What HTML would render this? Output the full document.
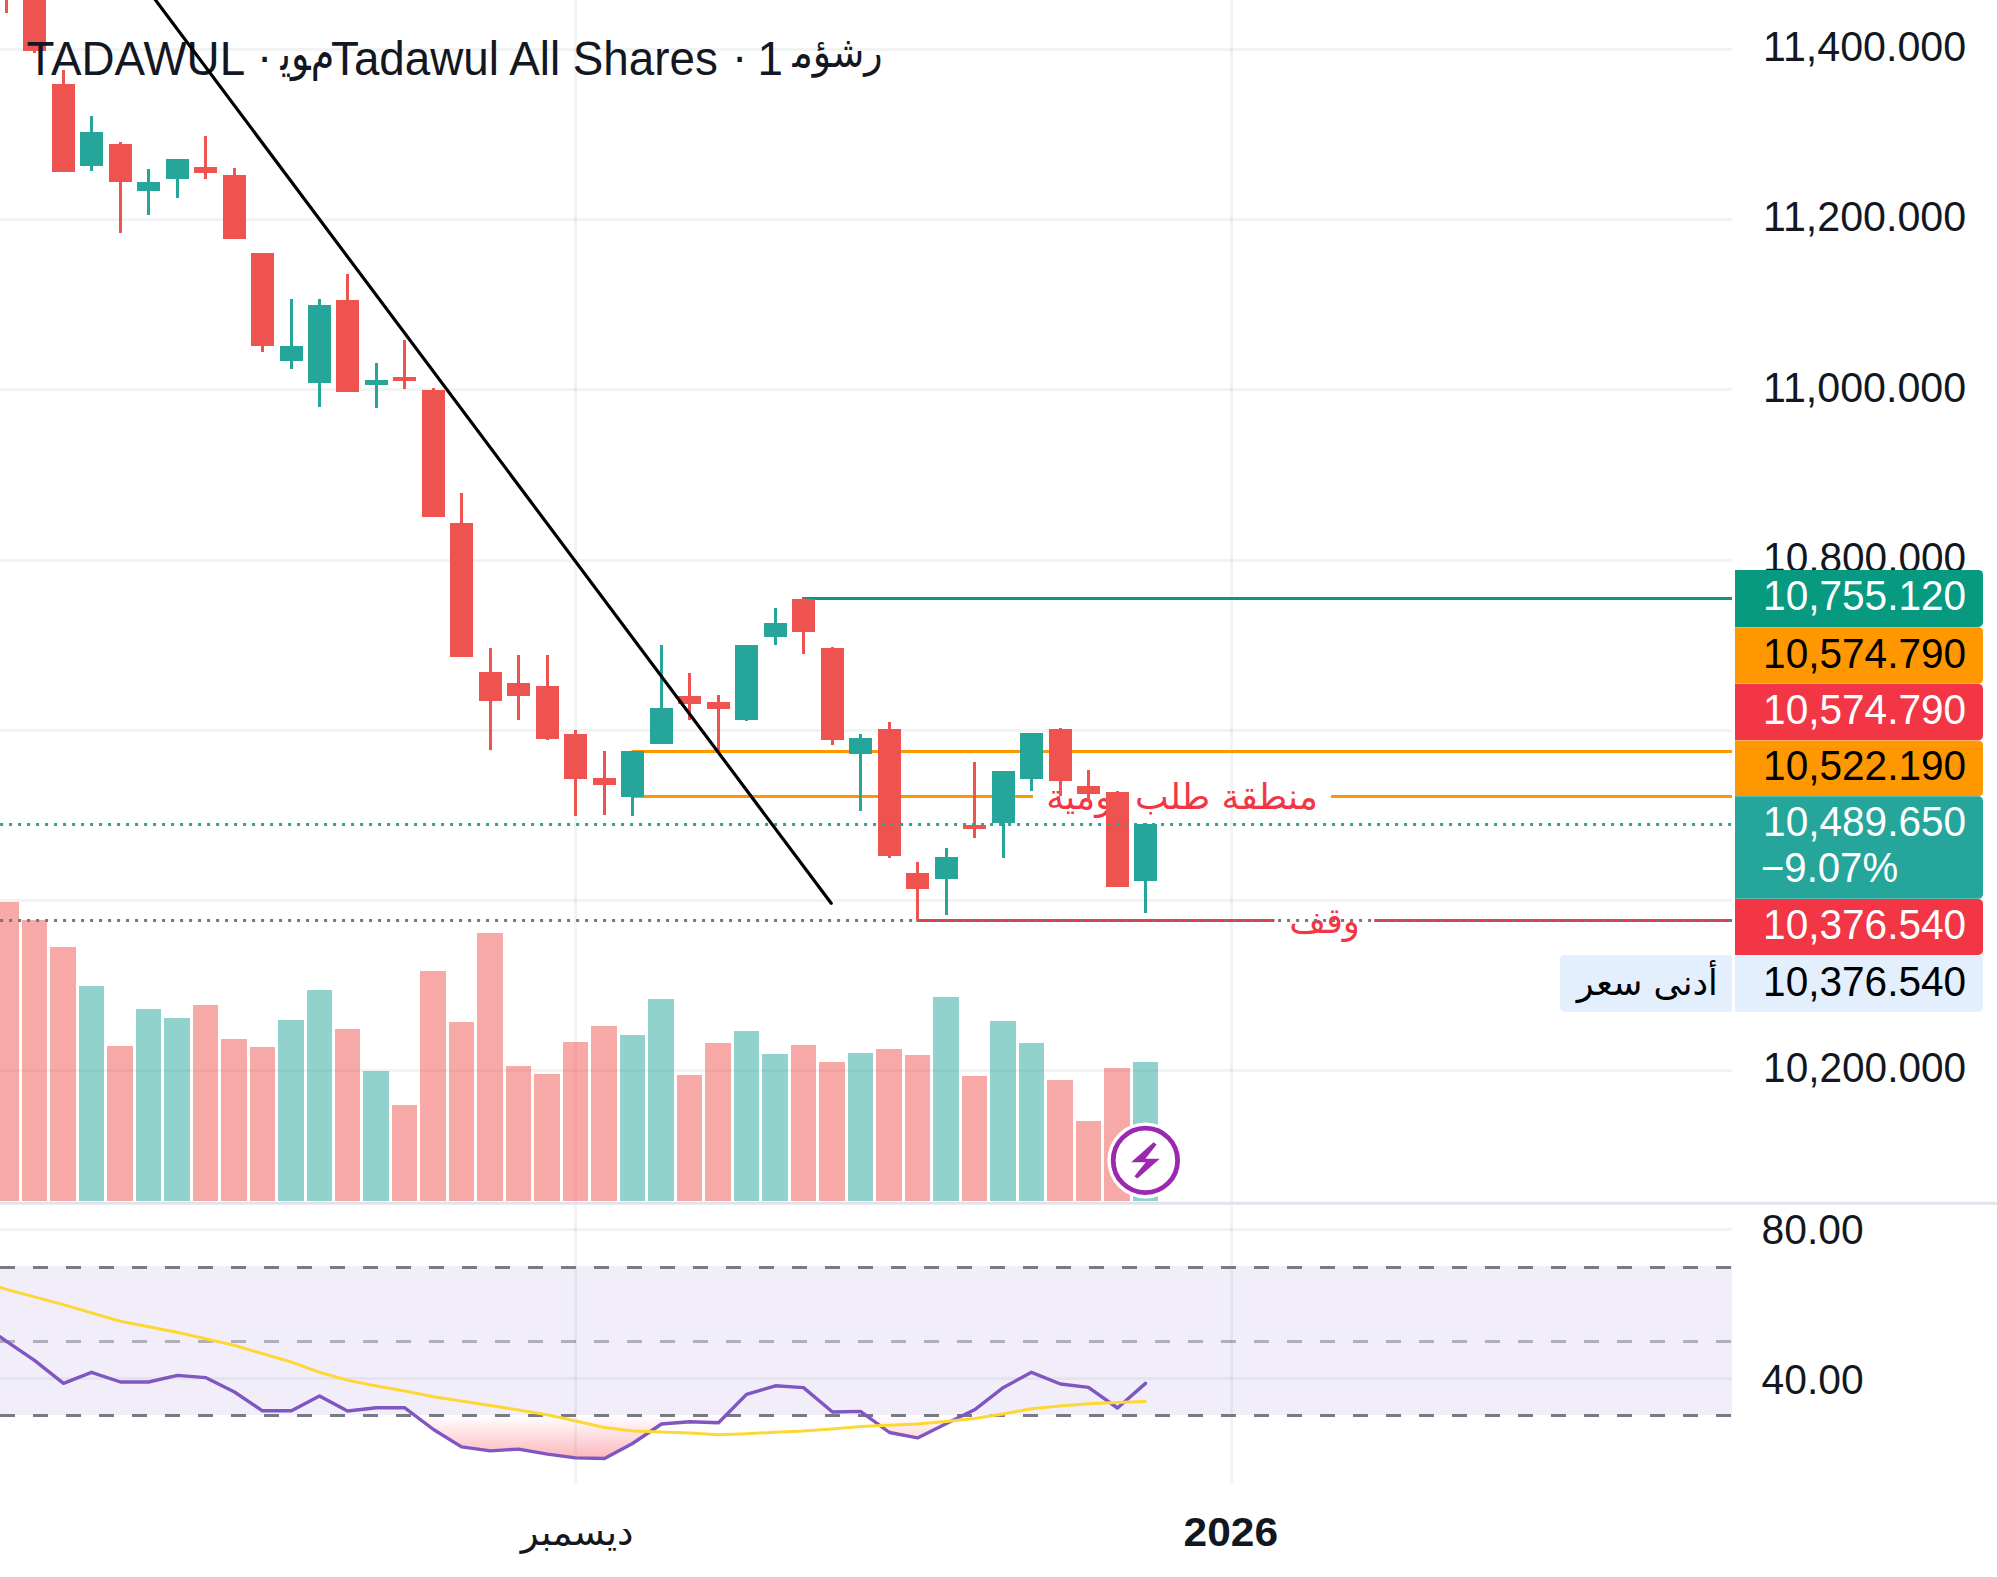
<!DOCTYPE html>
<html lang="ar"><head><meta charset="utf-8"><title>TADAWUL chart</title>
<style>html,body{margin:0;padding:0;background:#fff;}body{width:1997px;height:1577px;position:relative;overflow:hidden;font-family:"Liberation Sans","DejaVu Sans",sans-serif;}</style>
</head><body>
<svg width="1997" height="1577" viewBox="0 0 1997 1577" style="position:absolute;left:0;top:0">
<defs>
<linearGradient id="os" gradientUnits="userSpaceOnUse" x1="0" y1="1415.4" x2="0" y2="1462"><stop offset="0" stop-color="#f7525f" stop-opacity="0"/><stop offset="1" stop-color="#f7525f" stop-opacity="0.45"/></linearGradient>
<clipPath id="below30"><rect x="0" y="1415.4" width="1732" height="80"/></clipPath>
</defs>
<rect width="1997" height="1577" fill="#fff"/>
<rect x="0" y="1266" width="1732" height="149" fill="#7e57c2" fill-opacity="0.1"/>
<rect x="0" y="48" width="1732" height="3" fill="#1e322d" fill-opacity="0.06"/>
<rect x="0" y="218" width="1732" height="3" fill="#1e322d" fill-opacity="0.06"/>
<rect x="0" y="388" width="1732" height="3" fill="#1e322d" fill-opacity="0.06"/>
<rect x="0" y="559" width="1732" height="3" fill="#1e322d" fill-opacity="0.06"/>
<rect x="0" y="729" width="1732" height="3" fill="#1e322d" fill-opacity="0.06"/>
<rect x="0" y="899" width="1732" height="3" fill="#1e322d" fill-opacity="0.06"/>
<rect x="0" y="1069" width="1732" height="3" fill="#1e322d" fill-opacity="0.06"/>
<rect x="0" y="1228" width="1732" height="3" fill="#1e322d" fill-opacity="0.06"/>
<rect x="0" y="1377" width="1732" height="3" fill="#1e322d" fill-opacity="0.06"/>
<rect x="574" y="0" width="3" height="1483.6" fill="#1e322d" fill-opacity="0.06"/>
<rect x="1230" y="0" width="3" height="1483.6" fill="#1e322d" fill-opacity="0.06"/>
<line x1="0" x2="1732" y1="1267.5" y2="1267.5" stroke="#787b86" stroke-opacity="1" stroke-width="3" stroke-dasharray="15 18"/>
<line x1="0" x2="1732" y1="1341.5" y2="1341.5" stroke="#787b86" stroke-opacity="0.55" stroke-width="3" stroke-dasharray="15 18"/>
<line x1="0" x2="1732" y1="1415.5" y2="1415.5" stroke="#787b86" stroke-opacity="1" stroke-width="3" stroke-dasharray="15 18"/>
<polygon clip-path="url(#below30)" points="6.5,1415.4 6.5,1341.3 34.5,1360.3 63.5,1383.4 91.5,1372.3 120.5,1382.0 148.5,1382.0 177.5,1375.4 205.5,1377.6 234.5,1392.0 262.5,1410.8 291.5,1410.8 319.5,1396.0 347.5,1411.0 376.5,1407.8 404.5,1407.6 433.5,1429.5 461.5,1446.9 490.5,1450.9 518.5,1449.1 547.5,1454.1 575.5,1457.9 604.5,1458.5 632.5,1443.5 661.5,1424.0 689.5,1421.8 718.5,1422.8 746.5,1394.4 775.5,1385.8 803.5,1387.6 832.5,1412.0 860.5,1411.4 889.5,1432.5 917.5,1437.9 946.5,1423.4 974.5,1409.8 1003.5,1387.4 1031.5,1372.3 1060.5,1384.0 1088.5,1387.4 1117.5,1408.0 1145.5,1383.4 1145.5,1415.4" fill="url(#os)"/>
<rect x="-7" y="902" width="26" height="299" fill="#ef5350" fill-opacity="0.5"/>
<rect x="22" y="920" width="25" height="281" fill="#ef5350" fill-opacity="0.5"/>
<rect x="50" y="947" width="26" height="254" fill="#ef5350" fill-opacity="0.5"/>
<rect x="79" y="986" width="25" height="215" fill="#26a69a" fill-opacity="0.5"/>
<rect x="107" y="1046" width="26" height="155" fill="#ef5350" fill-opacity="0.5"/>
<rect x="136" y="1009" width="25" height="192" fill="#26a69a" fill-opacity="0.5"/>
<rect x="164" y="1018" width="26" height="183" fill="#26a69a" fill-opacity="0.5"/>
<rect x="193" y="1005" width="25" height="196" fill="#ef5350" fill-opacity="0.5"/>
<rect x="221" y="1039" width="26" height="162" fill="#ef5350" fill-opacity="0.5"/>
<rect x="250" y="1047" width="25" height="154" fill="#ef5350" fill-opacity="0.5"/>
<rect x="278" y="1020" width="26" height="181" fill="#26a69a" fill-opacity="0.5"/>
<rect x="307" y="990" width="25" height="211" fill="#26a69a" fill-opacity="0.5"/>
<rect x="335" y="1029" width="25" height="172" fill="#ef5350" fill-opacity="0.5"/>
<rect x="363" y="1071" width="26" height="130" fill="#26a69a" fill-opacity="0.5"/>
<rect x="392" y="1105" width="25" height="96" fill="#ef5350" fill-opacity="0.5"/>
<rect x="420" y="971" width="26" height="230" fill="#ef5350" fill-opacity="0.5"/>
<rect x="449" y="1022" width="25" height="179" fill="#ef5350" fill-opacity="0.5"/>
<rect x="477" y="933" width="26" height="268" fill="#ef5350" fill-opacity="0.5"/>
<rect x="506" y="1066" width="25" height="135" fill="#ef5350" fill-opacity="0.5"/>
<rect x="534" y="1074" width="26" height="127" fill="#ef5350" fill-opacity="0.5"/>
<rect x="563" y="1042" width="25" height="159" fill="#ef5350" fill-opacity="0.5"/>
<rect x="591" y="1026" width="26" height="175" fill="#ef5350" fill-opacity="0.5"/>
<rect x="620" y="1035" width="25" height="166" fill="#26a69a" fill-opacity="0.5"/>
<rect x="648" y="999" width="26" height="202" fill="#26a69a" fill-opacity="0.5"/>
<rect x="677" y="1075" width="25" height="126" fill="#ef5350" fill-opacity="0.5"/>
<rect x="705" y="1043" width="26" height="158" fill="#ef5350" fill-opacity="0.5"/>
<rect x="734" y="1031" width="25" height="170" fill="#26a69a" fill-opacity="0.5"/>
<rect x="762" y="1054" width="26" height="147" fill="#26a69a" fill-opacity="0.5"/>
<rect x="791" y="1045" width="25" height="156" fill="#ef5350" fill-opacity="0.5"/>
<rect x="819" y="1062" width="26" height="139" fill="#ef5350" fill-opacity="0.5"/>
<rect x="848" y="1053" width="25" height="148" fill="#26a69a" fill-opacity="0.5"/>
<rect x="876" y="1049" width="26" height="152" fill="#ef5350" fill-opacity="0.5"/>
<rect x="905" y="1055" width="25" height="146" fill="#ef5350" fill-opacity="0.5"/>
<rect x="933" y="997" width="26" height="204" fill="#26a69a" fill-opacity="0.5"/>
<rect x="962" y="1076" width="25" height="125" fill="#ef5350" fill-opacity="0.5"/>
<rect x="990" y="1021" width="26" height="180" fill="#26a69a" fill-opacity="0.5"/>
<rect x="1019" y="1043" width="25" height="158" fill="#26a69a" fill-opacity="0.5"/>
<rect x="1047" y="1080" width="26" height="121" fill="#ef5350" fill-opacity="0.5"/>
<rect x="1076" y="1121" width="25" height="80" fill="#ef5350" fill-opacity="0.5"/>
<rect x="1104" y="1068" width="26" height="133" fill="#ef5350" fill-opacity="0.5"/>
<rect x="1133" y="1062" width="25" height="139" fill="#26a69a" fill-opacity="0.5"/>
<line x1="802" x2="1732" y1="598.5" y2="598.5" stroke="#089981" stroke-width="3"/>
<line x1="631.5" x2="1732" y1="751.5" y2="751.5" stroke="#ff9800" stroke-width="3"/>
<line x1="631.5" x2="1033" y1="796.5" y2="796.5" stroke="#ff9800" stroke-width="3"/>
<line x1="1331" x2="1732" y1="796.5" y2="796.5" stroke="#ff9800" stroke-width="3"/>
<line x1="916.3" x2="1274.5" y1="920.5" y2="920.5" stroke="#f23645" stroke-width="3"/>
<line x1="1374.3" x2="1732" y1="920.5" y2="920.5" stroke="#f23645" stroke-width="3"/>
<text x="1182" y="809" text-anchor="middle" font-family="'DejaVu Sans',sans-serif" font-size="35.7" fill="#f23645" direction="rtl">منطقة طلب يومية</text>
<text x="1324.6" y="933" text-anchor="middle" font-family="'DejaVu Sans',sans-serif" font-size="35.4" fill="#f23645" direction="rtl">وقف</text>
<rect x="5" y="-20" width="3" height="33" fill="#ef5350"/>
<rect x="-5" y="-20" width="23" height="10" fill="#ef5350"/>
<rect x="33" y="-10" width="3" height="63" fill="#ef5350"/>
<rect x="23" y="-10" width="23" height="61" fill="#ef5350"/>
<rect x="62" y="70" width="3" height="102" fill="#ef5350"/>
<rect x="52" y="84" width="23" height="88" fill="#ef5350"/>
<rect x="90" y="116" width="3" height="55" fill="#26a69a"/>
<rect x="80" y="132" width="23" height="34" fill="#26a69a"/>
<rect x="119" y="142" width="3" height="91" fill="#ef5350"/>
<rect x="109" y="144" width="23" height="38" fill="#ef5350"/>
<rect x="147" y="169" width="3" height="46" fill="#26a69a"/>
<rect x="137" y="182" width="23" height="9" fill="#26a69a"/>
<rect x="176" y="159" width="3" height="39" fill="#26a69a"/>
<rect x="166" y="159" width="23" height="20" fill="#26a69a"/>
<rect x="204" y="136" width="3" height="43" fill="#ef5350"/>
<rect x="194" y="167" width="23" height="6" fill="#ef5350"/>
<rect x="233" y="168" width="3" height="71" fill="#ef5350"/>
<rect x="223" y="175" width="23" height="64" fill="#ef5350"/>
<rect x="261" y="253" width="3" height="99" fill="#ef5350"/>
<rect x="251" y="253" width="23" height="93" fill="#ef5350"/>
<rect x="290" y="299" width="3" height="70" fill="#26a69a"/>
<rect x="280" y="346" width="23" height="15" fill="#26a69a"/>
<rect x="318" y="299" width="3" height="108" fill="#26a69a"/>
<rect x="308" y="305" width="23" height="78" fill="#26a69a"/>
<rect x="346" y="274" width="3" height="118" fill="#ef5350"/>
<rect x="336" y="300" width="23" height="92" fill="#ef5350"/>
<rect x="375" y="363" width="3" height="45" fill="#26a69a"/>
<rect x="365" y="380" width="23" height="5" fill="#26a69a"/>
<rect x="403" y="340" width="3" height="49" fill="#ef5350"/>
<rect x="393" y="377" width="23" height="4" fill="#ef5350"/>
<rect x="432" y="388" width="3" height="129" fill="#ef5350"/>
<rect x="422" y="390" width="23" height="127" fill="#ef5350"/>
<rect x="460" y="493" width="3" height="164" fill="#ef5350"/>
<rect x="450" y="523" width="23" height="134" fill="#ef5350"/>
<rect x="489" y="648" width="3" height="102" fill="#ef5350"/>
<rect x="479" y="672" width="23" height="29" fill="#ef5350"/>
<rect x="517" y="655" width="3" height="65" fill="#ef5350"/>
<rect x="507" y="683" width="23" height="13" fill="#ef5350"/>
<rect x="546" y="655" width="3" height="85" fill="#ef5350"/>
<rect x="536" y="686" width="23" height="53" fill="#ef5350"/>
<rect x="574" y="730" width="3" height="86" fill="#ef5350"/>
<rect x="564" y="734" width="23" height="45" fill="#ef5350"/>
<rect x="603" y="751" width="3" height="64" fill="#ef5350"/>
<rect x="593" y="778" width="23" height="7" fill="#ef5350"/>
<rect x="631" y="751" width="3" height="65" fill="#26a69a"/>
<rect x="621" y="751" width="23" height="46" fill="#26a69a"/>
<rect x="660" y="645" width="3" height="99" fill="#26a69a"/>
<rect x="650" y="708" width="23" height="36" fill="#26a69a"/>
<rect x="688" y="673" width="3" height="47" fill="#ef5350"/>
<rect x="678" y="696" width="23" height="8" fill="#ef5350"/>
<rect x="717" y="695" width="3" height="56" fill="#ef5350"/>
<rect x="707" y="702" width="23" height="7" fill="#ef5350"/>
<rect x="745" y="645" width="3" height="76" fill="#26a69a"/>
<rect x="735" y="645" width="23" height="75" fill="#26a69a"/>
<rect x="774" y="608" width="3" height="37" fill="#26a69a"/>
<rect x="764" y="623" width="23" height="14" fill="#26a69a"/>
<rect x="802" y="598" width="3" height="56" fill="#ef5350"/>
<rect x="792" y="599" width="23" height="33" fill="#ef5350"/>
<rect x="831" y="647" width="3" height="98" fill="#ef5350"/>
<rect x="821" y="648" width="23" height="92" fill="#ef5350"/>
<rect x="859" y="734" width="3" height="77" fill="#26a69a"/>
<rect x="849" y="738" width="23" height="16" fill="#26a69a"/>
<rect x="888" y="722" width="3" height="136" fill="#ef5350"/>
<rect x="878" y="729" width="23" height="127" fill="#ef5350"/>
<rect x="916" y="862" width="3" height="58" fill="#ef5350"/>
<rect x="906" y="873" width="23" height="16" fill="#ef5350"/>
<rect x="945" y="848" width="3" height="67" fill="#26a69a"/>
<rect x="935" y="857" width="23" height="22" fill="#26a69a"/>
<rect x="973" y="762" width="3" height="76" fill="#ef5350"/>
<rect x="963" y="825" width="23" height="4" fill="#ef5350"/>
<rect x="1002" y="771" width="3" height="87" fill="#26a69a"/>
<rect x="992" y="771" width="23" height="52" fill="#26a69a"/>
<rect x="1030" y="733" width="3" height="58" fill="#26a69a"/>
<rect x="1020" y="733" width="23" height="46" fill="#26a69a"/>
<rect x="1059" y="728" width="3" height="68" fill="#ef5350"/>
<rect x="1049" y="729" width="23" height="52" fill="#ef5350"/>
<rect x="1087" y="770" width="3" height="32" fill="#ef5350"/>
<rect x="1077" y="786" width="23" height="8" fill="#ef5350"/>
<rect x="1116" y="791" width="3" height="96" fill="#ef5350"/>
<rect x="1106" y="792" width="23" height="95" fill="#ef5350"/>
<rect x="1144" y="823" width="3" height="90" fill="#26a69a"/>
<rect x="1134" y="824" width="23" height="57" fill="#26a69a"/>
<line x1="0.1" x2="1732" y1="824.5" y2="824.5" stroke="#26a69a" stroke-width="3" stroke-dasharray="3 6"/>
<line x1="0.1" x2="1732" y1="920.5" y2="920.5" stroke="#777777" stroke-width="3" stroke-dasharray="3 6"/>
<polyline points="-22,1322 6.5,1341.3 34.5,1360.3 63.5,1383.4 91.5,1372.3 120.5,1382.0 148.5,1382.0 177.5,1375.4 205.5,1377.6 234.5,1392.0 262.5,1410.8 291.5,1410.8 319.5,1396.0 347.5,1411.0 376.5,1407.8 404.5,1407.6 433.5,1429.5 461.5,1446.9 490.5,1450.9 518.5,1449.1 547.5,1454.1 575.5,1457.9 604.5,1458.5 632.5,1443.5 661.5,1424.0 689.5,1421.8 718.5,1422.8 746.5,1394.4 775.5,1385.8 803.5,1387.6 832.5,1412.0 860.5,1411.4 889.5,1432.5 917.5,1437.9 946.5,1423.4 974.5,1409.8 1003.5,1387.4 1031.5,1372.3 1060.5,1384.0 1088.5,1387.4 1117.5,1408.0 1145.5,1383.4" fill="none" stroke="#7e57c2" stroke-width="3.4" stroke-linejoin="round" stroke-linecap="round"/>
<polyline points="-22.0,1279.0 6.4,1289.4 63.3,1304.6 120.3,1321.2 177.0,1332.3 234.0,1345.3 291.0,1361.9 319.6,1372.3 348.0,1380.4 376.5,1386.0 405.0,1391.0 433.4,1396.8 490.4,1405.4 547.3,1414.8 575.8,1421.0 604.3,1427.5 632.7,1431.0 661.2,1432.0 689.7,1433.0 718.1,1434.7 746.6,1433.7 775.1,1432.3 803.5,1431.0 832.0,1429.0 860.5,1426.5 889.0,1425.2 917.4,1424.0 945.9,1421.4 974.4,1418.4 1002.8,1414.0 1031.3,1408.8 1059.8,1406.0 1088.3,1403.8 1116.7,1402.4 1145.2,1401.6" fill="none" stroke="#fdd835" stroke-width="3" stroke-linejoin="round" stroke-linecap="round"/>
<g font-family="'Liberation Sans','DejaVu Sans',sans-serif" font-size="45.8" fill="#131722">
<g transform="translate(0,75.1) scale(1,1.035) translate(0,-75.1)">
<text x="26.4" y="75.1">TADAWUL</text>
<text x="257" y="73">·</text>
<text x="331" y="75.1">Tadawul All Shares</text>
<text x="732" y="73">·</text>
<text x="757.4" y="75.1">1</text>
</g>
<text transform="translate(280.5,70.1) scale(1,1.25)" font-family="'DejaVu Sans',sans-serif" font-size="38" style="unicode-bidi:bidi-override;direction:ltr">ﻳﻮﻡ</text>
<text transform="translate(792.5,67.2) scale(1,1.13)" font-family="'DejaVu Sans',sans-serif" font-size="38" style="unicode-bidi:bidi-override;direction:ltr">ﻣﺆﺷﺭ</text>
</g>
<line x1="140.5" y1="-20" x2="831.2" y2="903.3" stroke="#000" stroke-width="3.2" stroke-linecap="round"/>
<circle cx="1145.4" cy="1160.4" r="38" fill="#fff"/>
<circle cx="1145.4" cy="1160.4" r="32.2" fill="#fff" stroke="#9c27b0" stroke-width="4.8"/>
<polygon points="1153.66,1142.21 1156.64,1144.56 1145.41,1158.83 1159.81,1158.83 1137.36,1178.61 1134.44,1176.27 1145.73,1162.31 1131.14,1162.31" fill="#9c27b0"/>
<rect x="0" y="1201.8" width="1997" height="2.9" fill="#e0e3eb"/>
<text x="1763.1" y="61.3" font-family="'Liberation Sans',sans-serif" font-size="41.6" fill="#131722" textLength="203.0" lengthAdjust="spacingAndGlyphs">11,400.000</text>
<text x="1763.1" y="231.4" font-family="'Liberation Sans',sans-serif" font-size="41.6" fill="#131722" textLength="203.0" lengthAdjust="spacingAndGlyphs">11,200.000</text>
<text x="1763.1" y="401.6" font-family="'Liberation Sans',sans-serif" font-size="41.6" fill="#131722" textLength="203.0" lengthAdjust="spacingAndGlyphs">11,000.000</text>
<text x="1763.1" y="571.8" font-family="'Liberation Sans',sans-serif" font-size="41.6" fill="#131722" textLength="203.0" lengthAdjust="spacingAndGlyphs">10,800.000</text>
<text x="1763.1" y="1082.2" font-family="'Liberation Sans',sans-serif" font-size="41.6" fill="#131722" textLength="203.0" lengthAdjust="spacingAndGlyphs">10,200.000</text>
<text x="1761.6" y="1244.0" font-family="'Liberation Sans',sans-serif" font-size="41.6" fill="#131722" textLength="102.2" lengthAdjust="spacingAndGlyphs">80.00</text>
<text x="1761.6" y="1393.5" font-family="'Liberation Sans',sans-serif" font-size="41.6" fill="#131722" textLength="102.2" lengthAdjust="spacingAndGlyphs">40.00</text>
<path d="M1735,569.9 H1978.5 a4.5,4.5 0 0 1 4.5,4.5 V622.4 a4.5,4.5 0 0 1 -4.5,4.5 H1735 Z" fill="#089981"/>
<text x="1763.1" y="610.4" font-family="'Liberation Sans',sans-serif" font-size="41.6" fill="#fff" textLength="203.0" lengthAdjust="spacingAndGlyphs">10,755.120</text>
<path d="M1735,627.2 H1978.5 a4.5,4.5 0 0 1 4.5,4.5 V679.3 a4.5,4.5 0 0 1 -4.5,4.5 H1735 Z" fill="#ff9800"/>
<text x="1763.1" y="667.8" font-family="'Liberation Sans',sans-serif" font-size="41.6" fill="#000" textLength="203.0" lengthAdjust="spacingAndGlyphs">10,574.790</text>
<path d="M1735,684 H1978.5 a4.5,4.5 0 0 1 4.5,4.5 V735.7 a4.5,4.5 0 0 1 -4.5,4.5 H1735 Z" fill="#f23645"/>
<text x="1763.1" y="723.6" font-family="'Liberation Sans',sans-serif" font-size="41.6" fill="#fff" textLength="203.0" lengthAdjust="spacingAndGlyphs">10,574.790</text>
<path d="M1735,740.5 H1978.5 a4.5,4.5 0 0 1 4.5,4.5 V791.7 a4.5,4.5 0 0 1 -4.5,4.5 H1735 Z" fill="#ff9800"/>
<text x="1763.1" y="780.3" font-family="'Liberation Sans',sans-serif" font-size="41.6" fill="#000" textLength="203.0" lengthAdjust="spacingAndGlyphs">10,522.190</text>
<path d="M1735,796.2 H1978.5 a4.5,4.5 0 0 1 4.5,4.5 V894.3 a4.5,4.5 0 0 1 -4.5,4.5 H1735 Z" fill="#26a69a"/>
<text x="1763.1" y="836.4" font-family="'Liberation Sans',sans-serif" font-size="41.6" fill="#fff" textLength="203.0" lengthAdjust="spacingAndGlyphs">10,489.650</text>
<text x="1760.9" y="882.2" font-family="'Liberation Sans',sans-serif" font-size="41.6" fill="#fff" textLength="137.2" lengthAdjust="spacingAndGlyphs">−9.07%</text>
<path d="M1735,899.1 H1978.5 a4.5,4.5 0 0 1 4.5,4.5 V950.4 a4.5,4.5 0 0 1 -4.5,4.5 H1735 Z" fill="#f23645"/>
<text x="1763.1" y="939.1" font-family="'Liberation Sans',sans-serif" font-size="41.6" fill="#fff" textLength="203.0" lengthAdjust="spacingAndGlyphs">10,376.540</text>
<path d="M1735,955.3 H1978.5 a4.5,4.5 0 0 1 4.5,4.5 V1007.2 a4.5,4.5 0 0 1 -4.5,4.5 H1735 Z" fill="#e3effd"/>
<text x="1763.1" y="995.7" font-family="'Liberation Sans',sans-serif" font-size="41.6" fill="#000" textLength="203.0" lengthAdjust="spacingAndGlyphs">10,376.540</text>
<path d="M1732,955.3 H1564.5 a4.5,4.5 0 0 0 -4.5,4.5 V1007.2 a4.5,4.5 0 0 0 4.5,4.5 H1732 Z" fill="#e3effd"/>
<text x="1647.3" y="994.5" text-anchor="middle" font-family="'DejaVu Sans',sans-serif" font-size="35" fill="#000" direction="rtl">أدنى سعر</text>
<text x="577.2" y="1545" text-anchor="middle" font-family="'DejaVu Sans',sans-serif" font-size="37" fill="#131722" direction="rtl">ديسمبر</text>
<text x="1183.6" y="1545.7" font-family="'Liberation Sans',sans-serif" font-weight="bold" font-size="41" fill="#131722" textLength="94.4" lengthAdjust="spacingAndGlyphs">2026</text>
</svg>
</body></html>
